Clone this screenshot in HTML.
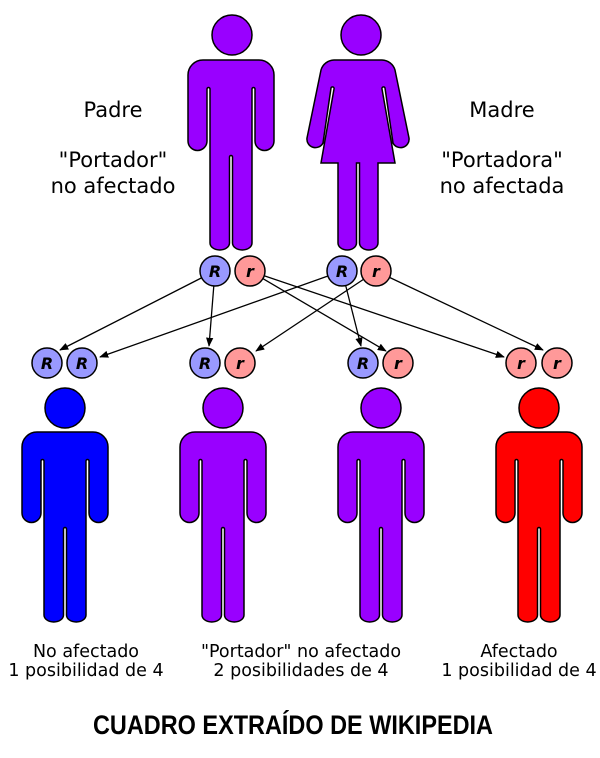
<!DOCTYPE html>
<html><head><meta charset="utf-8"><style>
html,body{margin:0;padding:0;background:#fff;width:600px;height:758px;overflow:hidden}
svg{display:block}
.t{font-family:"DejaVu Sans","Liberation Sans",sans-serif;fill:#000}
.a{font-family:"DejaVu Sans","Liberation Sans",sans-serif;font-weight:bold;font-style:italic;font-size:16px;text-anchor:middle}
</style></head><body>
<svg width="600" height="758" viewBox="0 0 600 758" xmlns="http://www.w3.org/2000/svg">
<defs>
<marker id="m" viewBox="0 0 10 10" refX="9" refY="5" markerWidth="7" markerHeight="7" orient="auto">
<path d="M0,1 L10,5 L0,9 z" fill="#000"/></marker>
<path id="male" d="M -28 0 H 28 A 15 15 0 0 1 43 15 V 81 A 9.5 9.5 0 0 1 24 81 V 29 A 1.5 1.5 0 0 0 21 29 V 183 A 9.75 7 0 0 1 1.5 183 V 97 A 1.5 1.5 0 0 0 -1.5 97 V 183 A 9.75 7 0 0 1 -21 183 V 29 A 1.5 1.5 0 0 0 -24 29 V 81 A 9.5 9.5 0 0 1 -43 81 V 15 A 15 15 0 0 1 -28 0 Z" stroke="#000" stroke-width="1.5"/>
</defs>
<g font-size="21" class="t" text-anchor="middle">
<text x="113" y="117">Padre</text>
<text x="113" y="167">"Portador"</text>
<text x="113" y="193">no afectado</text>
<text x="502" y="117">Madre</text>
<text x="502" y="167">"Portadora"</text>
<text x="502" y="193">no afectada</text>
</g>
<circle cx="232" cy="35" r="20" fill="#9900ff" stroke="#000" stroke-width="1.5"/>
<use href="#male" transform="translate(231,60)" fill="#9900ff"/>
<circle cx="361" cy="35" r="20" fill="#9900ff" stroke="#000" stroke-width="1.5"/>
<path transform="translate(358,60)" fill="#9900ff" stroke="#000" stroke-width="1.5" d="M -24 0 H 24 A 14 14 0 0 1 37 10 L 51 78 A 8.5 8.5 0 0 1 35 83 L 27 28 A 1.5 1.5 0 0 0 24 29 L 37 103 H 20 V 183 A 9.25 7 0 0 1 1.5 183 V 103 H -1.5 V 183 A 9.25 7 0 0 1 -20 183 V 103 H -37 L -24 29 A 1.5 1.5 0 0 0 -27 28 L -35 83 A 8.5 8.5 0 0 1 -51 78 L -37 10 A 14 14 0 0 1 -24 0 Z"/>
<g stroke="#000" stroke-width="1.3" marker-end="url(#m)">
<line x1="215" y1="271" x2="60" y2="350"/>
<line x1="215" y1="271" x2="209" y2="346"/>
<line x1="250" y1="271" x2="386" y2="351"/>
<line x1="250" y1="271" x2="504" y2="357"/>
<line x1="342" y1="271" x2="100" y2="357"/>
<line x1="342" y1="271" x2="361" y2="346"/>
<line x1="376" y1="271" x2="256" y2="351"/>
<line x1="376" y1="271" x2="543" y2="350"/>
</g>
<g stroke="#000" stroke-width="1.5">
<circle cx="215" cy="271" r="15" fill="#9999ff"/>
<circle cx="250" cy="271" r="15" fill="#ff9999"/>
<circle cx="342" cy="271" r="15" fill="#9999ff"/>
<circle cx="376" cy="271" r="15" fill="#ff9999"/>
<circle cx="47" cy="363" r="15" fill="#9999ff"/>
<circle cx="82" cy="363" r="15" fill="#9999ff"/>
<circle cx="205" cy="363" r="15" fill="#9999ff"/>
<circle cx="240" cy="363" r="15" fill="#ff9999"/>
<circle cx="363" cy="363" r="15" fill="#9999ff"/>
<circle cx="398" cy="363" r="15" fill="#ff9999"/>
<circle cx="521" cy="363" r="15" fill="#ff9999"/>
<circle cx="557" cy="363" r="15" fill="#ff9999"/>
</g>
<g class="a">
<text x="215" y="277">R</text><text x="250" y="277">r</text>
<text x="342" y="277">R</text><text x="376" y="277">r</text>
<text x="47" y="369">R</text><text x="82" y="369">R</text>
<text x="205" y="369">R</text><text x="240" y="369">r</text>
<text x="363" y="369">R</text><text x="398" y="369">r</text>
<text x="521" y="369">r</text><text x="557" y="369">r</text>
</g>
<g stroke="#000" stroke-width="1.5">
<circle cx="65" cy="408" r="20" fill="#0000ff"/>
<circle cx="223" cy="408" r="20" fill="#9900ff"/>
<circle cx="381" cy="408" r="20" fill="#9900ff"/>
<circle cx="539" cy="408" r="20" fill="#ff0000"/>
</g>
<use href="#male" transform="translate(65,432)" fill="#0000ff"/>
<use href="#male" transform="translate(223,432)" fill="#9900ff"/>
<use href="#male" transform="translate(381,432)" fill="#9900ff"/>
<use href="#male" transform="translate(539,432)" fill="#ff0000"/>
<g font-size="17.5" class="t" text-anchor="middle">
<text x="86" y="657">No afectado</text>
<text x="86" y="676">1 posibilidad de 4</text>
<text x="301" y="657">"Portador" no afectado</text>
<text x="301" y="676">2 posibilidades de 4</text>
<text x="519" y="657">Afectado</text>
<text x="519" y="676">1 posibilidad de 4</text>
</g>
<text x="293" y="734" font-family="'Liberation Sans',sans-serif" font-weight="bold" font-size="27" text-anchor="middle" textLength="400" lengthAdjust="spacingAndGlyphs">CUADRO EXTRAÍDO DE WIKIPEDIA</text>
</svg>
</body></html>
